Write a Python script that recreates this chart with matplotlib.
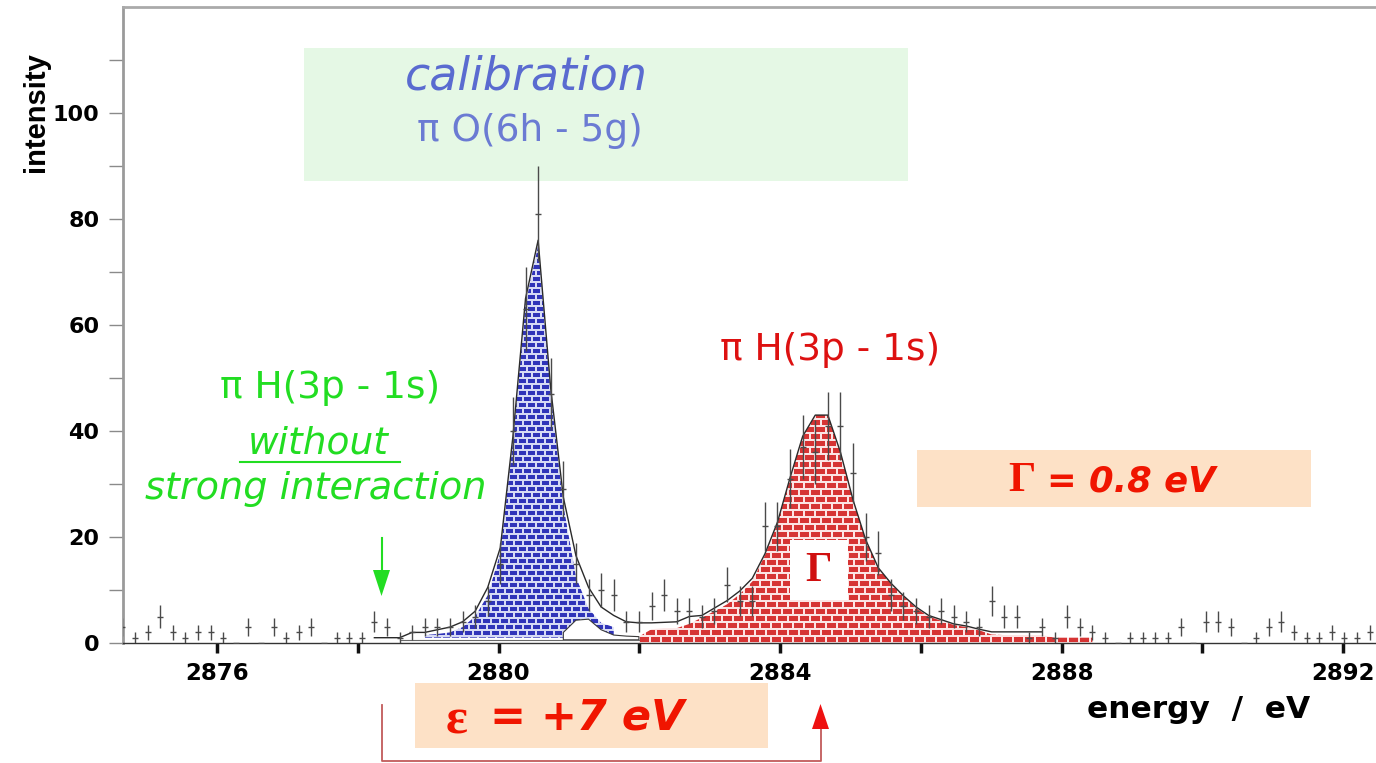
import numpy as np
import matplotlib
matplotlib.use("Agg")
import matplotlib.pyplot as plt
from matplotlib.patches import Polygon, Rectangle
from matplotlib.lines import Line2D
from matplotlib.transforms import Affine2D

# ---------------------------------------------------------------- data
# spectrometer channels: energy of the first channel and channel width (eV)
E_FIRST = 2874.656
E_STEP = 0.179

# measured counts per channel
counts = [3, 1, 2, 5, 2, 1, 2, 2, 1, 0,
          3, 0, 3, 1, 2, 3, 0, 1, 1, 1,
          4, 3, 1, 2, 3, 3, 3, 4, 5, 8,
          15, 40, 63, 81, 47, 29, 15, 9, 10, 9,
          4, 4, 7, 9, 6, 6, 5, 6, 11, 8,
          8, 22, 22, 31, 37, 36, 41, 41, 32, 20,
          17, 9, 7, 6, 5, 6, 5, 4, 3, 8,
          5, 5, 1, 3, 1, 5, 3, 2, 1, 0,
          1, 1, 1, 1, 3, 0, 4, 4, 3, 0,
          1, 3, 4, 2, 1, 1, 2, 1, 1, 2]

# total fit, starting at channel FIT_START
FIT_START = 20
fit_total = [1.0, 1.0, 1.0, 2.0, 2.0, 2.5, 3.0, 4.0, 6.0, 10.5,
             18, 39, 65, 76, 48, 27.5, 16.5, 10.5, 6.8, 5.2,
             4.0, 3.8, 3.8, 3.9, 4.0, 5.0, 5.2, 6.6, 8.0, 9.8,
             12.2, 16.8, 22.8, 31.2, 39, 43, 43, 36, 27, 19.5,
             14.2, 11.3, 8.9, 6.8, 5.2, 4.4, 3.6, 3.2, 2.6, 2.1,
             2.1, 2.1, 2.1, 2.1]

# calibration line  piO(6h-5g), sitting on the background level
CAL_START = 24
CAL_BASE = 1.0
cal_line = [1.5, 1.7, 2.0, 3.0, 5.0, 9.0, 17, 38, 64, 75,
            47, 26, 12.5, 6.5, 3.8, 3.0]

# satellite component next to the calibration line
SAT_START = 35
SAT_BASE = 0.6
sat_line = [2.0, 4.3, 4.5, 2.5, 1.5, 1.3, 1.2]

# piH(3p-1s) line
PIH_START = 41
pih_line = [1.2, 2.6, 2.8, 2.8, 3.6, 4.8, 6.0, 7.3, 9.2, 11.6,
            16.5, 22.5, 31, 38.8, 43, 43, 36, 27, 19.5, 14.2,
            11.2, 8.8, 6.6, 5.0, 4.2, 3.4, 3.0, 2.4, 1.6, 1.5,
            1.5, 1.5, 1.5, 1.0, 1.0, 1.0, 1.0]

X_TICKS = [2876, 2878, 2880, 2882, 2884, 2886, 2888, 2890, 2892]
X_TICK_LABELS = ["2876", "", "2880", "", "2884", "", "2888", "", "2892"]
Y_TICKS = [0, 20, 40, 60, 80, 100]
Y_TICK_LABELS = ["0", "20", "40", "60", "80", "100"]
Y_MINOR = [10, 30, 50, 70, 90, 110]

# ---------------------------------------------------------------- figure
W_PX, H_PX = 1376, 763
fig = plt.figure(figsize=(W_PX / 100, H_PX / 100), dpi=100)
AX_L, AX_B, AX_T = 123, 643, 7
ax = fig.add_axes([AX_L / W_PX, 1 - AX_B / H_PX, 1 - AX_L / W_PX, (AX_B - AX_T) / H_PX])
XLIM = (2874.664, 2892.469)
YLIM = (0, 120)

# pixel coordinates measured from the top-left corner of the figure
PX = Affine2D().scale(1 / W_PX, -1 / H_PX).translate(0, 1) + fig.transFigure

E = E_FIRST + E_STEP * np.arange(len(counts))
cnt = np.asarray(counts, float)


def brick_texture(h, w, row, brick, brick_rgb, mortar_rgb):
    yy, xx = np.mgrid[0:h, 0:w]
    course = yy // row
    solid_row = (yy % row) < row - 2
    shift = (course % 2) * (brick // 2)
    solid_col = ((xx + shift) % brick) < brick - 2
    mask = (solid_row & solid_col)[..., None]
    return np.where(mask, np.array(brick_rgb) / 255.0, np.array(mortar_rgb) / 255.0)


def brick_fill(x, top, base, tex):
    verts = [(x[0], base)] + list(zip(x, top)) + [(x[-1], base)]
    poly = Polygon(verts, closed=True, facecolor="none", edgecolor="none")
    ax.add_patch(poly)
    im = ax.imshow(tex, extent=(XLIM[0], XLIM[1], YLIM[0], YLIM[1]), origin="upper",
                   aspect="auto", interpolation="nearest", zorder=2)
    im.set_clip_path(poly)


tex_h = AX_B - AX_T
tex_w = W_PX - AX_L
blue_tex = brick_texture(tex_h, tex_w, 6, 9, (48, 52, 185), (214, 218, 245))
red_tex = brick_texture(tex_h, tex_w, 7, 11, (214, 52, 52), (252, 228, 228))

xc = E[CAL_START:CAL_START + len(cal_line)]
brick_fill(xc, cal_line, CAL_BASE, blue_tex)
xr = E[PIH_START:PIH_START + len(pih_line)]
brick_fill(xr, pih_line, 0.0, red_tex)

# satellite component (open)
xs = E[SAT_START:SAT_START + len(sat_line)]
sat_verts = [(xs[0], SAT_BASE)] + list(zip(xs, sat_line)) + [(xs[-1], SAT_BASE)]
ax.add_patch(Polygon(sat_verts, closed=True, facecolor="white", edgecolor="#3a3a3a",
                     lw=0.8, zorder=3))
ax.plot([E[22], E[41]], [SAT_BASE, SAT_BASE], color="#6a6a6a", lw=0.8, zorder=3)

# total fit
xf = E[FIT_START:FIT_START + len(fit_total)]
ax.plot(xf, fit_total, color="#2a2a2a", lw=1.0, zorder=4)

# data with statistical errors
ax.errorbar(E, cnt, yerr=np.sqrt(cnt), fmt="_", ms=5, mew=1.0, color="#4a4a4a",
            ecolor="#4a4a4a", elinewidth=1.0, capsize=0, zorder=5)

# ---------------------------------------------------------------- axes
ax.set_xlim(*XLIM)
ax.set_ylim(*YLIM)
ax.set_xticks(X_TICKS, X_TICK_LABELS, fontsize=16.5, fontweight="bold")
ax.set_yticks(Y_TICKS, Y_TICK_LABELS, fontsize=16, fontweight="bold")
ax.set_yticks(Y_MINOR, minor=True)
ax.tick_params(axis="x", direction="out", length=7, width=2.5, color="#111111", pad=7)
ax.tick_params(axis="y", which="both", direction="out", length=10, width=1,
               color="#8a8a8a", pad=7)
ax.spines["right"].set_visible(False)
ax.spines["left"].set_color("#9a9a9a")
ax.spines["left"].set_linewidth(2)
ax.spines["top"].set_color("#aaaaaa")
ax.spines["top"].set_linewidth(2)
ax.spines["bottom"].set_color("#333333")
ax.spines["bottom"].set_linewidth(1)

ax.text(36, 112, "intensity", transform=PX, rotation=90, ha="center", va="center",
        fontsize=21, fontweight="bold", family="Liberation Sans", clip_on=False)
ax.text(1199, 710, "energy  /  eV", transform=PX, ha="center", va="center",
        fontsize=22.5, fontweight="bold", clip_on=False)

# ---------------------------------------------------------------- annotations
GREEN = "#22dd22"
RED = "#dd1111"
ALERT = "#f01500"
BLUE_TXT = "#5a6bd0"

ax.add_patch(Rectangle((304, 48), 604, 133, transform=PX, facecolor="#e5f8e5",
                       edgecolor="none", zorder=1, clip_on=False))
ax.text(526, 77, "calibration", transform=PX, ha="center", va="center", fontsize=33,
        style="italic", color=BLUE_TXT, clip_on=False, zorder=7)
ax.text(530, 131, "π O(6h - 5g)", transform=PX, ha="center", va="center", fontsize=27,
        color="#6b7bd3", clip_on=False, zorder=7)

ax.text(330, 388, "π H(3p - 1s)", transform=PX, ha="center", va="center", fontsize=27,
        color=GREEN, clip_on=False, zorder=7)
ax.text(318, 444, "without", transform=PX, ha="center", va="center", fontsize=27,
        style="italic", color=GREEN, clip_on=False, zorder=7)
ax.add_line(Line2D([240, 400], [462, 462], transform=PX, color=GREEN, lw=1.5,
                   clip_on=False, zorder=7))
ax.text(316, 489, "strong interaction", transform=PX, ha="center", va="center",
        fontsize=27.5, style="italic", color=GREEN, clip_on=False, zorder=7)

ax.text(830, 350, "π H(3p - 1s)", transform=PX, ha="center", va="center", fontsize=27,
        color=RED, clip_on=False, zorder=7)

# arrow marking the unshifted position
ax.add_line(Line2D([381.5, 381.5], [538, 572], transform=PX, color=GREEN, lw=1.5,
                   clip_on=False, zorder=7))
ax.add_patch(Polygon([(373, 570), (390, 570), (381.5, 596)], closed=True, transform=PX,
                     facecolor=GREEN, edgecolor="none", clip_on=False, zorder=7))

# width box
ax.add_patch(Rectangle((917, 450), 394, 57, transform=PX, facecolor="#fde1c6",
                       edgecolor="none", zorder=1, clip_on=False))
ax.text(1008, 481, "Γ", transform=PX, ha="left", va="center", fontsize=31,
        fontweight="bold", family="Liberation Serif", color=ALERT, clip_on=False, zorder=7)
ax.text(1047, 481, "= 0.8 eV", transform=PX, ha="left", va="center", fontsize=25.5,
        fontweight="bold", style="italic", color=ALERT, clip_on=False, zorder=7)

# Γ label inside the line
ax.add_patch(Rectangle((790, 540), 58, 60, transform=PX, facecolor="white",
                       edgecolor="none", zorder=6, clip_on=False))
ax.text(819, 571, "Γ", transform=PX, ha="center", va="center", fontsize=30,
        fontweight="bold", family="Liberation Serif", color="#d01010", clip_on=False,
        zorder=7)

# shift box and bracket
ax.add_patch(Rectangle((415, 683), 353, 65, transform=PX, facecolor="#fde1c6",
                       edgecolor="none", zorder=1, clip_on=False))
ax.text(446, 721, "ε", transform=PX, ha="left", va="center", fontsize=37,
        fontweight="bold", family="Liberation Serif", color=ALERT, clip_on=False, zorder=7)
ax.text(490, 718, "= +7 eV", transform=PX, ha="left", va="center", fontsize=31,
        fontweight="bold", style="italic", color=ALERT, clip_on=False, zorder=7)
ax.add_line(Line2D([382.3, 382.3, 820.5, 820.5], [705, 761, 761, 728], transform=PX,
                   color="#c25a5a", lw=1.3, clip_on=False, zorder=7))
ax.add_patch(Polygon([(812, 729), (829, 729), (820.5, 704)], closed=True, transform=PX,
                     facecolor="#ee1111", edgecolor="none", clip_on=False, zorder=7))

fig.savefig("out.png", dpi=100)
